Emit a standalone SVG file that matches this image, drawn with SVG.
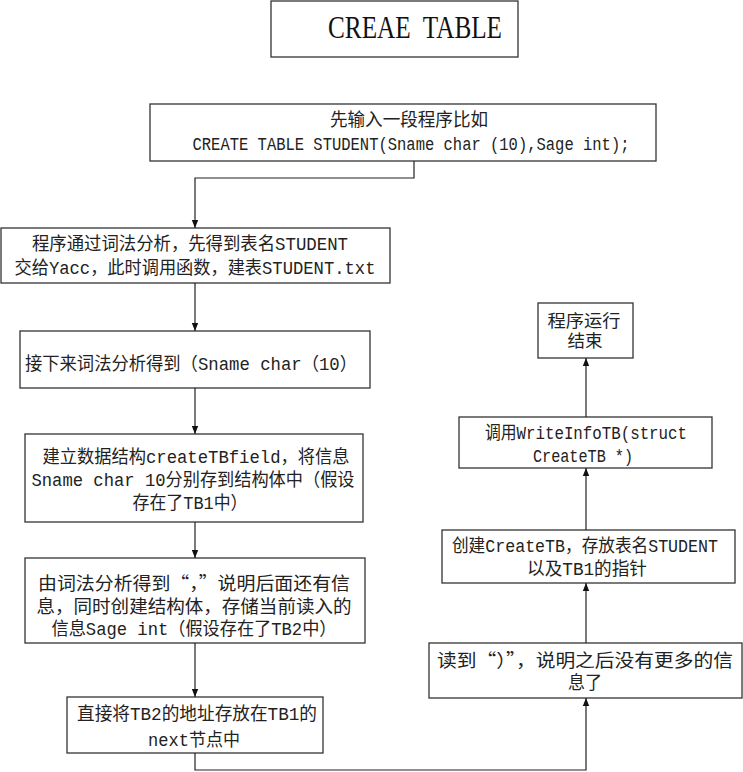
<svg xmlns="http://www.w3.org/2000/svg" width="743" height="772" viewBox="0 0 743 772">
<defs>
<marker id="arr" viewBox="0 0 10 10" refX="10" refY="5" markerWidth="8" markerHeight="8" markerUnits="userSpaceOnUse" orient="auto">
<path d="M0,1 L10,5 L0,9 Z" fill="#111"/>
</marker>
<style>
.box{fill:#fff;stroke:#333;stroke-width:1.3}
.t{font-family:"Liberation Mono","Noto Sans CJK SC",monospace;font-size:18px;fill:#222;text-anchor:middle}
.s{font-size:17px}
.l{text-anchor:start}
.q{font-family:"Noto Sans CJK SC",sans-serif}
.title{font-family:"Liberation Serif","Noto Sans CJK SC",serif;font-size:31px;fill:#111;text-anchor:middle}
.c{fill:none;stroke:#222;stroke-width:1.2}
</style>
</defs>
<rect width="743" height="772" fill="#fff"/>
<g id="title">
<rect class="box" x="271" y="1" width="247" height="56"/>
<text class="title" x="415" y="38" textLength="174" lengthAdjust="spacingAndGlyphs" xml:space="preserve">CREAE  TABLE</text>
</g>
<g id="n1">
<rect class="box" x="150" y="104" width="506" height="57"/>
<text class="t" x="409" y="126" textLength="158" lengthAdjust="spacingAndGlyphs">先输入一段程序比如</text>
<text class="t" x="411" y="150" textLength="437" lengthAdjust="spacingAndGlyphs">CREATE TABLE STUDENT(Sname char (10),Sage int);</text>
</g>
<g id="n2">
<rect class="box" x="1" y="228" width="389" height="55"/>
<text class="t" x="190" y="250" textLength="316" lengthAdjust="spacingAndGlyphs">程序通过词法分析，先得到表名STUDENT</text>
<text class="t" x="195" y="274" textLength="361" lengthAdjust="spacingAndGlyphs">交给Yacc，此时调用函数，建表STUDENT.txt</text>
</g>
<g id="n3">
<rect class="box" x="20" y="331" width="350" height="57"/>
<text class="t l" x="25" y="370" textLength="332" lengthAdjust="spacingAndGlyphs">接下来词法分析得到（Sname char（10）</text>
</g>
<g id="n4">
<rect class="box" x="25" y="434" width="338" height="88"/>
<text class="t" x="196" y="463" textLength="307" lengthAdjust="spacingAndGlyphs">建立数据结构createTBfield，将信息</text>
<text class="t" x="193" y="486" textLength="323" lengthAdjust="spacingAndGlyphs">Sname char 10分别存到结构体中（假设</text>
<text class="t" x="190" y="509" textLength="115" lengthAdjust="spacingAndGlyphs">存在了TB1中）</text>
</g>
<g id="n5">
<rect class="box" x="25" y="558" width="340" height="85"/>
<text class="t" x="194" y="590" textLength="312" lengthAdjust="spacingAndGlyphs">由词法分析得到<tspan class="q">“，”</tspan>说明后面还有信</text>
<text class="t" x="194" y="613" textLength="315" lengthAdjust="spacingAndGlyphs">息，同时创建结构体，存储当前读入的</text>
<text class="t" x="194" y="635" textLength="285" lengthAdjust="spacingAndGlyphs">信息Sage int（假设存在了TB2中）</text>
</g>
<g id="n6">
<rect class="box" x="67" y="697" width="256" height="56"/>
<text class="t" x="197" y="720" textLength="240" lengthAdjust="spacingAndGlyphs">直接将TB2的地址存放在TB1的</text>
<text class="t" x="194" y="746" textLength="92" lengthAdjust="spacingAndGlyphs">next节点中</text>
</g>
<g id="n7">
<rect class="box" x="429" y="643" width="313" height="55"/>
<text class="t" x="585" y="667" textLength="296" lengthAdjust="spacingAndGlyphs">读到<tspan class="q">“）”</tspan>，说明之后没有更多的信</text>
<text class="t" x="585" y="689" textLength="34" lengthAdjust="spacingAndGlyphs">息了</text>
</g>
<g id="n8">
<rect class="box" x="442" y="530" width="293" height="53"/>
<text class="t" x="585" y="552" textLength="266" lengthAdjust="spacingAndGlyphs">创建CreateTB，存放表名STUDENT</text>
<text class="t" x="587" y="575" textLength="120" lengthAdjust="spacingAndGlyphs">以及TB1的指针</text>
</g>
<g id="n9">
<rect class="box" x="459" y="417" width="253" height="51"/>
<text class="t" x="586" y="439" textLength="202" lengthAdjust="spacingAndGlyphs">调用WriteInfoTB(struct</text>
<text class="t" x="583" y="462" textLength="100" lengthAdjust="spacingAndGlyphs">CreateTB *)</text>
</g>
<g id="n10">
<rect class="box" x="538" y="303" width="95" height="55"/>
<text class="t s" x="584" y="327" textLength="73" lengthAdjust="spacingAndGlyphs">程序运行</text>
<text class="t s" x="585" y="347" textLength="35" lengthAdjust="spacingAndGlyphs">结束</text>
</g>
<g id="connectors">
<path class="c" d="M414,161 V178 H195 V228" marker-end="url(#arr)"/>
<path class="c" d="M195,283 V331" marker-end="url(#arr)"/>
<path class="c" d="M195,388 V434" marker-end="url(#arr)"/>
<path class="c" d="M195,522 V558" marker-end="url(#arr)"/>
<path class="c" d="M195,643 V697" marker-end="url(#arr)"/>
<path class="c" d="M195,753 V770 H586 V698" marker-end="url(#arr)"/>
<path class="c" d="M586,643 V583" marker-end="url(#arr)"/>
<path class="c" d="M586,530 V468" marker-end="url(#arr)"/>
<path class="c" d="M586,417 V358" marker-end="url(#arr)"/>
</g>
</svg>
